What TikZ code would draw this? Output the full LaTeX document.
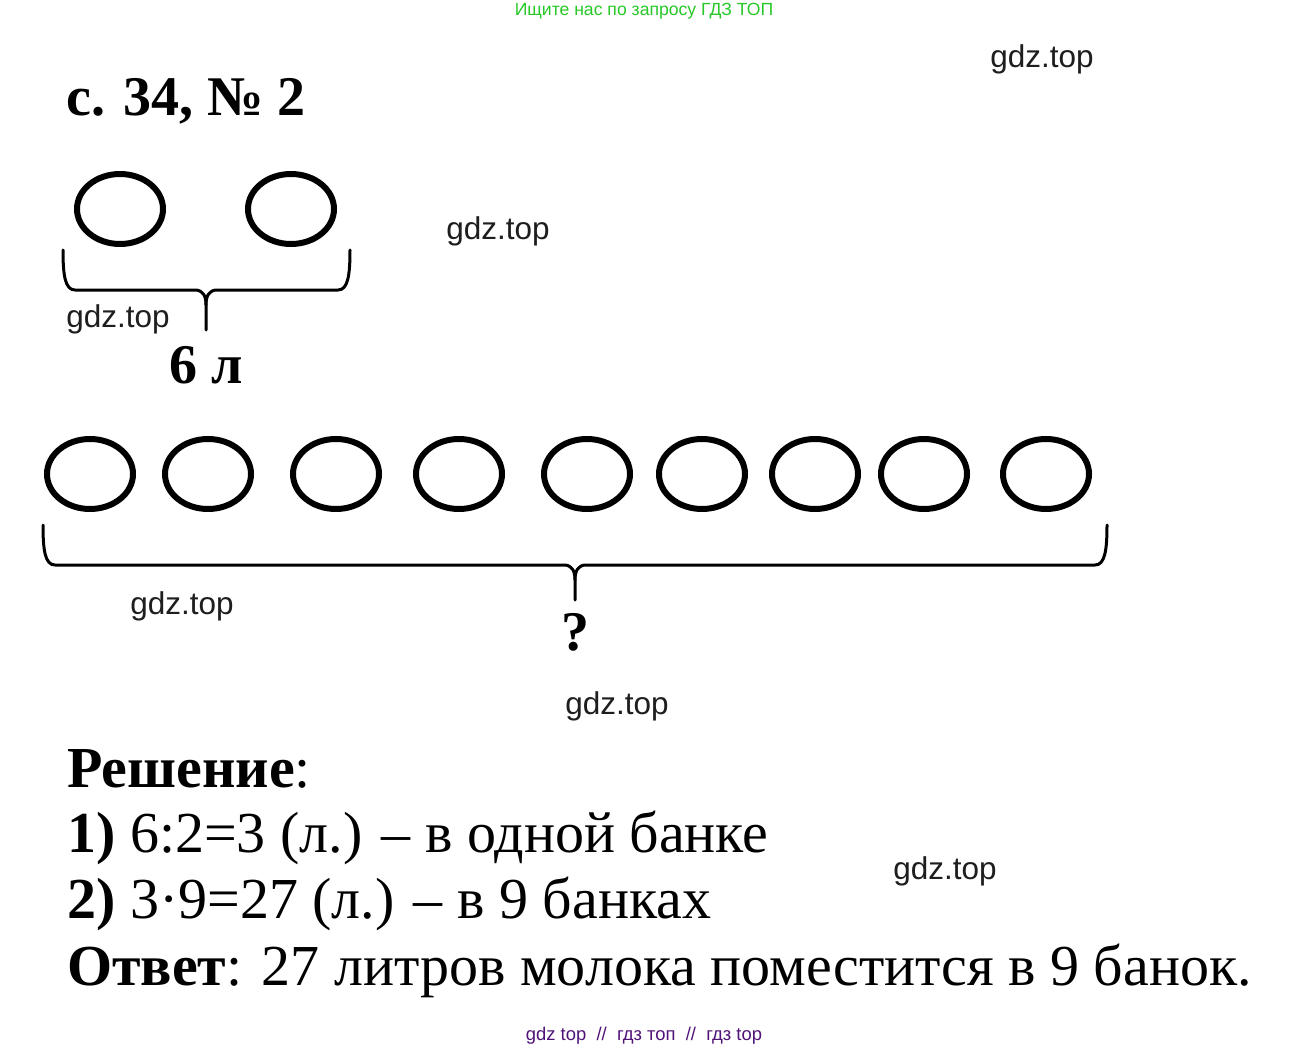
\documentclass[tikz,border=0pt]{standalone}
\usepackage{fontspec}
\setmainfont{Liberation Serif}
\newfontfamily\wmfont{Liberation Sans}
\definecolor{wmgreen}{RGB}{40,200,40}
\definecolor{wmpurple}{RGB}{80,20,120}
\definecolor{wmgray}{RGB}{30,30,30}
\begin{document}
\begin{tikzpicture}[x=1pt,y=-1pt,
  jar/.style={draw=black,line width=6pt},
  bracepath/.style={draw=black,line width=3pt,line cap=round,line join=round},
  wm/.style={font=\wmfont\fontsize{31.5}{33}\selectfont,text=wmgray,inner sep=0pt},
  big/.style={font=\fontsize{58}{60}\selectfont,inner sep=0pt,anchor=base west},
  bigb/.style={font=\bfseries\fontsize{56}{60}\selectfont,inner sep=0pt}]
\useasboundingbox[fill=white] (0,0) rectangle (1291,1051);
% header watermark
\node[font=\wmfont\fontsize{17.6}{19}\selectfont,text=wmgreen,inner sep=0pt] (top) at (644,11) {Ищите нас по запросу ГДЗ ТОП};
\node[wm] (w1) at (1042,59) {gdz.top};
\node[wm] (w2) at (498,231) {gdz.top};
\node[wm] (w3) at (118,319) {gdz.top};
\node[wm] (w4) at (182,606) {gdz.top};
\node[wm] (w5) at (617,706) {gdz.top};
\node[wm] (w6) at (945,871) {gdz.top};
% title
\node[bigb,anchor=base west] (title) at (66,116) {с. 34, № 2};
% two jars
\draw[jar] (120,209) ellipse [x radius=43, y radius=35];
\draw[jar] (291,209) ellipse [x radius=43, y radius=35];
% small brace
\draw[bracepath] (63,250) .. controls (63,275) and (65,290) .. (75,290) -- (195,290)
  .. controls (203,290) and (206,296) .. (206,305) -- (206,330);
\draw[bracepath] (350,250) .. controls (350,275) and (348,290) .. (338,290) -- (217,290)
  .. controls (209,290) and (206,296) .. (206,305);
\node[bigb,anchor=base] (six) at (206,383) {6 л};
% nine jars
\foreach \x [count=\i] in {90,208,336,459,587,702,815,924,1046}
  \draw[jar] (\x,474) ellipse [x radius=43, y radius=35];
% big brace
\draw[bracepath] (43,525) .. controls (43,550) and (45,565) .. (55,565) -- (564,565)
  .. controls (572,565) and (575,571) .. (575,580) -- (575,600);
\draw[bracepath] (1107,525) .. controls (1107,550) and (1105,565) .. (1095,565) -- (586,565)
  .. controls (578,565) and (575,571) .. (575,580);
\node[bigb,anchor=base] (q) at (575,650) {?};
% solution
\node[big] (s0) at (67,787) {\textbf{Решение}:};
\node[big] (s1) at (67,852) {\textbf{1)} 6:2=3 (л.) – в одной банке};
\node[big] (s2) at (67,918) {\textbf{2)} 3·9=27 (л.) – в 9 банках};
\node[big] (s3) at (67,985) {\textbf{Ответ}: 27 литров молока поместится в 9 банок.};
% footer
\node[font=\wmfont\fontsize{18.4}{20}\selectfont,text=wmpurple,inner sep=0pt] (foot) at (644,1036) {gdz top \ // \ гдз топ \ // \ гдз top};
\end{tikzpicture}
\end{document}
